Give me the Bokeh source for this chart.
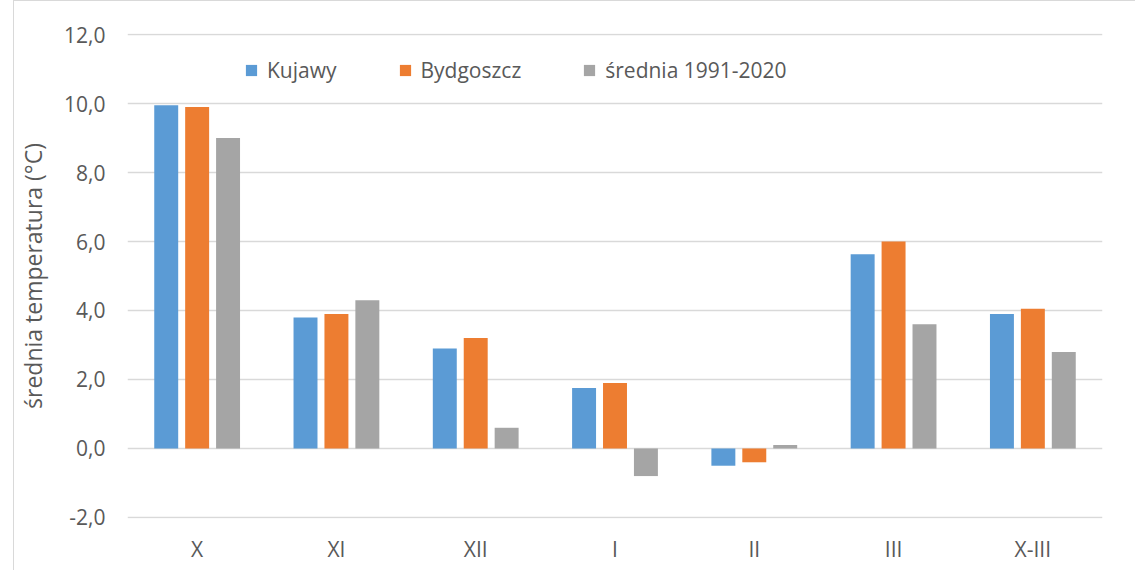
from bokeh.plotting import figure
from bokeh.models import (FactorRange, FixedTicker, CustomJSTickFormatter, Legend,
                          LegendItem, Range1d, ColumnDataSource)
from bokeh.transform import dodge
from bokeh.embed import file_html
from bokeh.resources import INLINE

months = ["X", "XI", "XII", "I", "II", "III", "X-III"]
kujawy = [9.95, 3.8, 2.9, 1.75, -0.5, 5.63, 3.9]
bydgoszcz = [9.9, 3.9, 3.2, 1.9, -0.4, 6.0, 4.05]
srednia = [9.0, 4.3, 0.6, -0.8, 0.1, 3.6, 2.8]
series_names = ["Kujawy", "Bydgoszcz", "średnia 1991-2020"]
colors = ["#5B9BD5", "#ED7D31", "#A5A5A5"]
y_ticks = [-2, 0, 2, 4, 6, 8, 10, 12]

FONT = "Open Sans"
TXT = "#595959"

src = ColumnDataSource(dict(m=months, k=kujawy, b=bydgoszcz, s=srednia))

p = figure(width=1122, height=570, x_range=FactorRange(*months),
           y_range=Range1d(-2.03, 12.03), output_backend="svg", toolbar_location=None,
           min_border_left=109, min_border_right=34, min_border_top=32,
           min_border_bottom=53)
p.margin = (0, 0, 0, 13)
p.styles = {"border-left": "1px solid #D9D9D9", "border-top": "1px solid #D9D9D9"}
p.outline_line_color = None
p.background_fill_color = "white"
p.border_fill_color = "white"

renderers = []
for col, off, color in zip(["k", "b", "s"], [-0.222, 0.0, 0.222], colors):
    r = p.vbar(x=dodge("m", off, range=p.x_range), top=col, bottom=0, width=0.172,
               source=src, fill_color=color, line_color=None)
    renderers.append(r)

p.yaxis.ticker = FixedTicker(ticks=y_ticks)
p.yaxis.formatter = CustomJSTickFormatter(code="return tick.toFixed(1).replace('.', ',');")
for ax in (p.xaxis, p.yaxis):
    ax.axis_line_color = None
    ax.major_tick_line_color = None
    ax.minor_tick_line_color = None
    ax.major_tick_out = 0
    ax.major_tick_in = 0
    ax.minor_tick_out = 0
    ax.major_label_text_font = FONT
    ax.major_label_text_font_size = "21px"
    ax.major_label_text_color = TXT
p.yaxis.major_label_standoff = 22
p.xaxis.major_label_standoff = 16
p.yaxis.axis_label = "średnia temperatura (°C)"
p.yaxis.axis_label_text_font = FONT
p.yaxis.axis_label_text_font_size = "23px"
p.yaxis.axis_label_text_font_style = "normal"
p.yaxis.axis_label_text_color = TXT
p.yaxis.axis_label_standoff = 12

p.xgrid.grid_line_color = None
p.ygrid.grid_line_color = "#D9D9D9"
p.ygrid.grid_line_width = 1.5

legend = Legend(items=[LegendItem(label=n, renderers=[r]) for n, r in zip(series_names, renderers)],
                orientation="horizontal", location=(117, 434), padding=0, margin=0,
                spacing=61, glyph_width=14, glyph_height=14, label_standoff=9,
                label_text_font=FONT, label_text_font_size="21px", label_text_color=TXT,
                border_line_color=None, background_fill_alpha=0, label_height=14)
p.add_layout(legend, "center")

open("out.html", "w").write(file_html(p, INLINE))
